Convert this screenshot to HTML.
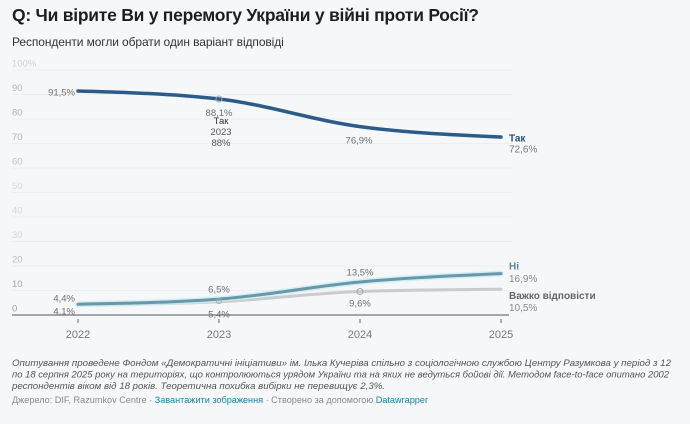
<!DOCTYPE html>
<html><head><meta charset="utf-8">
<style>
html,body{margin:0;padding:0;}
body{width:690px;height:424px;background:#f5f7f9;position:relative;overflow:hidden;font-family:"Liberation Sans","DejaVu Sans",sans-serif;}
.title{position:absolute;left:12px;top:5px;font-size:17.5px;font-weight:bold;color:#1e1e1e;white-space:nowrap;letter-spacing:-0.25px;}
.sub{position:absolute;left:12px;top:35px;font-size:12px;color:#333;white-space:nowrap;letter-spacing:-0.1px;}
svg{position:absolute;left:0;top:0;}
</style></head><body>
<div class="title">Q: Чи вірите Ви у перемогу України у війні проти Росії?</div>
<div class="sub">Респонденти могли обрати один варіант відповіді</div>
<svg width="690" height="424" viewBox="0 0 690 424" font-family="Liberation Sans, DejaVu Sans, sans-serif">
  <g stroke="#eceef0" stroke-width="1">
    <line x1="12" x2="512" y1="70" y2="70"/>
    <line x1="12" x2="512" y1="94.5" y2="94.5"/>
    <line x1="12" x2="512" y1="119" y2="119"/>
    <line x1="12" x2="512" y1="143.5" y2="143.5"/>
    <line x1="12" x2="512" y1="168" y2="168"/>
    <line x1="12" x2="512" y1="192.5" y2="192.5"/>
    <line x1="12" x2="512" y1="217" y2="217"/>
    <line x1="12" x2="512" y1="241.5" y2="241.5"/>
    <line x1="12" x2="512" y1="266" y2="266"/>
    <line x1="12" x2="512" y1="290.5" y2="290.5"/>
  </g>
  <g font-size="9.5" fill="#b3b3b3">
    <text x="12" y="66.5" fill="#d0d0d0">100%</text>
    <text x="12" y="91">90</text>
    <text x="12" y="115.5">80</text>
    <text x="12" y="140">70</text>
    <text x="12" y="164.5" fill="#c4c4c4">60</text>
    <text x="12" y="189" fill="#d6d6d6">50</text>
    <text x="12" y="213.5" fill="#d6d6d6">40</text>
    <text x="12" y="238" fill="#d6d6d6">30</text>
    <text x="12" y="262.5" fill="#bdbdbd">20</text>
    <text x="12" y="287" fill="#a8a8a8">10</text>
    <text x="12" y="311.5" fill="#a0a0a0">0</text>
  </g>
  <!-- Важко -->
  <path d="M78,304.96 C125,304.43 172,303.89 219,301.77 C266,299.65 313,292.96 360,291.48 C407,290.0 454,289.64 501,289.27" fill="none" stroke="#cbcbcb" stroke-width="3" stroke-linecap="round"/>
  <!-- Ні -->
  <path d="M78,304.2 C125,303.35 172,302.5 219,299.1 C266,295.7 313,286.25 360,282 C407,277.75 454,275.68 501,273.6" fill="none" stroke="#c9eef2" stroke-width="6" stroke-linecap="round" opacity="0.8"/>
  <path d="M78,304.2 C125,303.35 172,302.5 219,299.1 C266,295.7 313,286.25 360,282 C407,277.75 454,275.68 501,273.6" fill="none" stroke="#6a97a9" stroke-width="3" stroke-linecap="round"/>
  <!-- Так -->
  <path d="M78,91 C125,92.33 172,93.67 219,99 C266,104.33 313,120.26 360,126.6 C407,132.94 454,134.96 501,137" fill="none" stroke="#2c5b8a" stroke-width="3.5" stroke-linecap="round"/>
  <g fill="none" stroke="#9aa9b5" stroke-width="1">
    <circle cx="219" cy="99" r="3"/>
    <circle cx="360" cy="291.5" r="3"/>
    <circle cx="219" cy="301" r="2.5"/>
  </g>
  <!-- axis -->
  <line x1="12" x2="509" y1="315" y2="315" stroke="#8c8c8c" stroke-width="1.6"/>
  <g stroke="#666" stroke-width="1">
    <line x1="78" x2="78" y1="319" y2="323"/>
    <line x1="219" x2="219" y1="319" y2="323"/>
    <line x1="360" x2="360" y1="319" y2="323"/>
    <line x1="501" x2="501" y1="319" y2="323"/>
  </g>
  <g font-size="11" fill="#777" text-anchor="middle">
    <text x="78" y="338">2022</text>
    <text x="219" y="338">2023</text>
    <text x="360" y="338">2024</text>
    <text x="501" y="338">2025</text>
  </g>
  <!-- value labels -->
  <g font-size="9.5" fill="#6f6f6f">
    <text x="75" y="95.5" text-anchor="end">91,5%</text>
    <text x="219" y="116" text-anchor="middle">88,1%</text>
    <text x="221" y="124" text-anchor="middle" fill="#333">Так</text>
    <text x="221" y="135" text-anchor="middle" fill="#555">2023</text>
    <text x="221" y="146" text-anchor="middle" fill="#555">88%</text>
    <text x="359" y="143.5" text-anchor="middle">76,9%</text>
    <text x="75" y="301.5" text-anchor="end">4,4%</text>
    <text x="75" y="314.5" text-anchor="end">4,1%</text>
    <text x="219" y="292.5" text-anchor="middle">6,5%</text>
    <text x="219" y="317.5" text-anchor="middle">5,4%</text>
    <text x="360" y="275.5" text-anchor="middle">13,5%</text>
    <text x="360" y="306.5" text-anchor="middle">9,6%</text>
  </g>
  <g font-size="10">
    <text x="509" y="141.5" font-weight="bold" fill="#2c4f73">Так</text>
    <text x="509" y="152.5" fill="#7a7a7a">72,6%</text>
    <text x="509" y="269.5" font-weight="bold" fill="#5c8597">Ні</text>
    <text x="509" y="282" fill="#8a8a8a">16,9%</text>
    <text x="509" y="299" font-weight="bold" fill="#666">Важко відповісти</text>
    <text x="509" y="311" fill="#8a8a8a">10,5%</text>
  </g>
  <!-- notes -->
  <g font-size="9.6" font-style="italic" fill="#555">
    <text x="12" y="366" textLength="659" lengthAdjust="spacingAndGlyphs">Опитування проведене Фондом «Демократичні ініціативи» ім. Ілька Кучеріва спільно з соціологічною службою Центру Разумкова у період з 12</text>
    <text x="12" y="377.5" textLength="657" lengthAdjust="spacingAndGlyphs">по 18 серпня 2025 року на територіях, що контролюються урядом України та на яких не ведуться бойові дії. Методом face-to-face опитано 2002</text>
    <text x="12" y="389" textLength="373" lengthAdjust="spacingAndGlyphs">респондентів віком від 18 років. Теоретична похибка вибірки не перевищує 2,3%.</text>
  </g>
  <text x="12" y="403" font-size="8.8" fill="#8a8a8a" textLength="416" lengthAdjust="spacingAndGlyphs">Джерело: DIF, Razumkov Centre · <tspan fill="#1d81a2">Завантажити зображення</tspan> · Створено за допомогою <tspan fill="#1d81a2">Datawrapper</tspan></text>
</svg>
</body></html>
